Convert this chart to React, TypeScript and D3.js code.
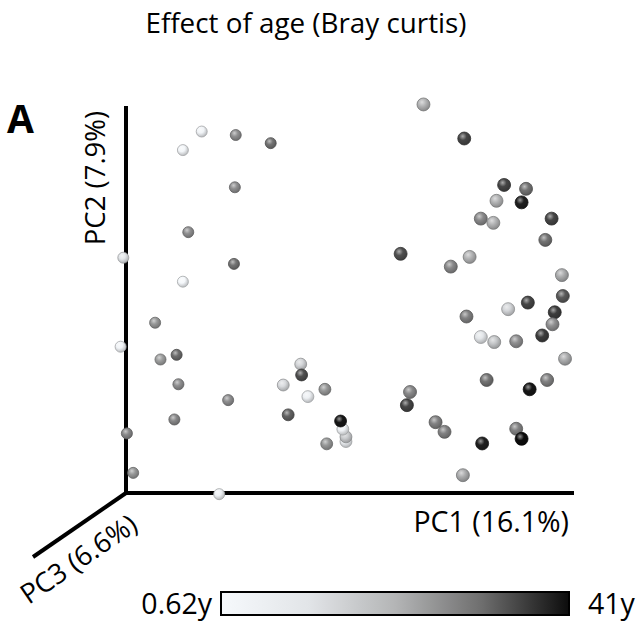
import React from "react";
import * as d3 from "d3";

// PCoA coordinates (arbitrary units, axis origin at 0)
const pc1: number[] = [
  16.9, 24.5, 32.3, 12.7, 24.3, 13.9, -0.6, 24.1, 12.7, 6.5,
  -1.2, 7.7, 11.3, 11.7, 22.8, 10.8, 0.2, 1.6, 20.8,
  39.0, 39.2, 35.1, 44.4, 40.6, 36.2, 49.1, 49.1, 48.4, 47.9, 44.8,
  66.4, 75.5, 84.4, 89.3, 82.7, 88.3, 79.2, 82.0, 95.0, 93.6,
  61.3, 76.7, 72.5, 97.3, 97.5, 89.7, 85.3, 95.7, 95.2, 76.0,
  92.9, 79.2, 82.2, 87.1, 98.0, 80.5, 94.0, 90.1, 63.4, 62.7,
  69.1, 71.1, 87.1, 88.3, 79.5, 75.2,
];
const pc2: number[] = [
  93.4, 92.5, 90.4, 88.6, 79.0, 67.4, 60.8, 59.2, 54.6, 44.0,
  37.8, 34.5, 35.7, 28.1, 24.0, 19.0, 15.4, 5.2, -0.3,
  33.3, 30.5, 27.9, 26.8, 24.9, 20.2, 13.3, 14.5, 16.5, 18.6, 12.7,
  100.4, 91.6, 79.6, 78.6, 75.5, 75.1, 70.9, 69.8, 70.9, 65.4,
  61.8, 61.0, 58.5, 56.3, 50.9, 49.2, 47.5, 46.7, 43.6, 45.6,
  40.7, 40.3, 39.0, 39.2, 34.7, 29.2, 29.2, 26.8, 26.1, 22.7,
  18.3, 15.8, 16.6, 14.0, 12.8, 4.6,
];
const pc3: number[] = [
  20, 20, 20, 20, 20, 20, 20, 20, 20, 22,
  22, 22, 22, 22, 22, 22, 22, 22, 22,
  50, 50, 50, 50, 50, 50, 50, 50, 50, 50, 50,
  85, 85, 85, 85, 85, 85, 85, 85, 85, 85,
  85, 85, 85, 85, 85, 85, 85, 85, 85, 85,
  85, 85, 85, 85, 85, 85, 85, 85, 85, 85,
  85, 85, 85, 85, 85, 85,
];
// age in years
const age: number[] = [
  3, 26, 30, 2, 26, 26, 10, 30, 1, 25,
  3, 24, 31, 26, 26, 27, 27, 25, 4,
  14, 34, 13, 25, 5, 32, 7, 16, 4, 40, 25,
  21, 35, 35, 30, 21, 39, 27, 21, 35, 30,
  34, 21, 27, 22, 33, 35, 14, 36, 26, 28,
  36, 10, 17, 26, 22, 30, 28, 40, 27, 35,
  28, 28, 28, 41, 39, 22,
];

const title = "Effect of age (Bray curtis)";
const axisLabels = ["PC1 (16.1%)", "PC2 (7.9%)", "PC3 (6.6%)"];
const ageMin = 0.62;
const ageMax = 41;
const ageLabels = ["0.62y", "41y"];
const colorStops = ["#f6f9fc", "#e2e5e8", "#b4b5b6", "#6e6e6e", "#0c0c0c"];

const W = 640;
const H = 626;
const origin = { x: 126, y: 493 };
const xEnd = 574;
const yTop = 106;
const zEnd = { x: 33, y: 557 };

export default function App() {
  const x = d3.scaleLinear().domain([0, 100]).range([origin.x, xEnd]);
  const y = d3.scaleLinear().domain([0, 100]).range([origin.y, 106]);
  const ageDomain = d3.range(colorStops.length).map((i) => ageMin + ((ageMax - ageMin) * i) / (colorStops.length - 1));
  const color = d3.scaleLinear<string>().domain(ageDomain).range(colorStops).interpolate(d3.interpolateRgb);
  const r = d3.scaleLinear().domain([0, 100]).range([5.2, 6.7]);

  const pts = pc1.map((v, i) => ({ i, x: x(v), y: y(pc2[i]), r: r(pc3[i]), c: color(age[i]) }));

  const bar = { x: 221, y: 592, w: 348, h: 23 };
  const barStops = d3.range(0, 1.0001, 0.05).map((t) => ({ t, c: color(ageMin + t * (ageMax - ageMin)) }));

  const font = "'Open Sans', Lato, sans-serif";
  const fs = 28.5;

  return (
    <svg width={W} height={H} style={{ position: "absolute", left: 0, top: 0, background: "#fff" }} fontFamily={font}>
      <defs>
        {pts.map((p) => {
          const base = d3.color(p.c)!;
          return (
            <radialGradient key={p.i} id={`s${p.i}`} cx="40%" cy="36%" r="66%" fx="38%" fy="32%">
              <stop offset="0%" stopColor={d3.interpolateRgb(p.c, "#ffffff")(0.55)} />
              <stop offset="45%" stopColor={p.c} />
              <stop offset="100%" stopColor={base.darker(0.8).formatHex()} />
            </radialGradient>
          );
        })}
        <linearGradient id="bar" x1="0" x2="1" y1="0" y2="0">
          {barStops.map((s, k) => (
            <stop key={k} offset={`${s.t * 100}%`} stopColor={s.c} />
          ))}
        </linearGradient>
      </defs>

      <text x={306} y={33} textAnchor="middle" fontSize={27.8} fill="#000">{title}</text>
      <text x={7} y={133} fontSize={39} fontWeight="bold" fill="#000">A</text>

      {/* axes */}
      <g stroke="#000" strokeWidth={4} strokeLinecap="butt">
        <line x1={origin.x} y1={origin.y + 2} x2={origin.x} y2={yTop} />
        <line x1={origin.x - 2} y1={origin.y} x2={xEnd} y2={origin.y} />
        <line x1={origin.x} y1={origin.y} x2={zEnd.x} y2={zEnd.y} />
      </g>

      {pts.map((p) => (
        <circle
          key={p.i}
          cx={p.x}
          cy={p.y}
          r={p.r}
          fill={`url(#s${p.i})`}
          stroke={d3.color(p.c)!.darker(1.1).formatHex()}
          strokeWidth={0.8}
        />
      ))}

      <text x={569} y={532} textAnchor="end" fontSize={fs} fill="#000">{axisLabels[0]}</text>
      <text transform={`translate(105,178) rotate(-90)`} textAnchor="middle" fontSize={27.5} fill="#000">{axisLabels[1]}</text>
      <text transform={`translate(84,567) rotate(-34.5)`} textAnchor="middle" fontSize={27.5} fill="#000">{axisLabels[2]}</text>

      <rect x={bar.x} y={bar.y} width={bar.w} height={bar.h} fill="url(#bar)" stroke="#000" strokeWidth={2} />
      <text x={212} y={614} textAnchor="end" fontSize={fs} fill="#000">{ageLabels[0]}</text>
      <text x={588} y={614} textAnchor="start" fontSize={fs} fill="#000">{ageLabels[1]}</text>
    </svg>
  );
}
